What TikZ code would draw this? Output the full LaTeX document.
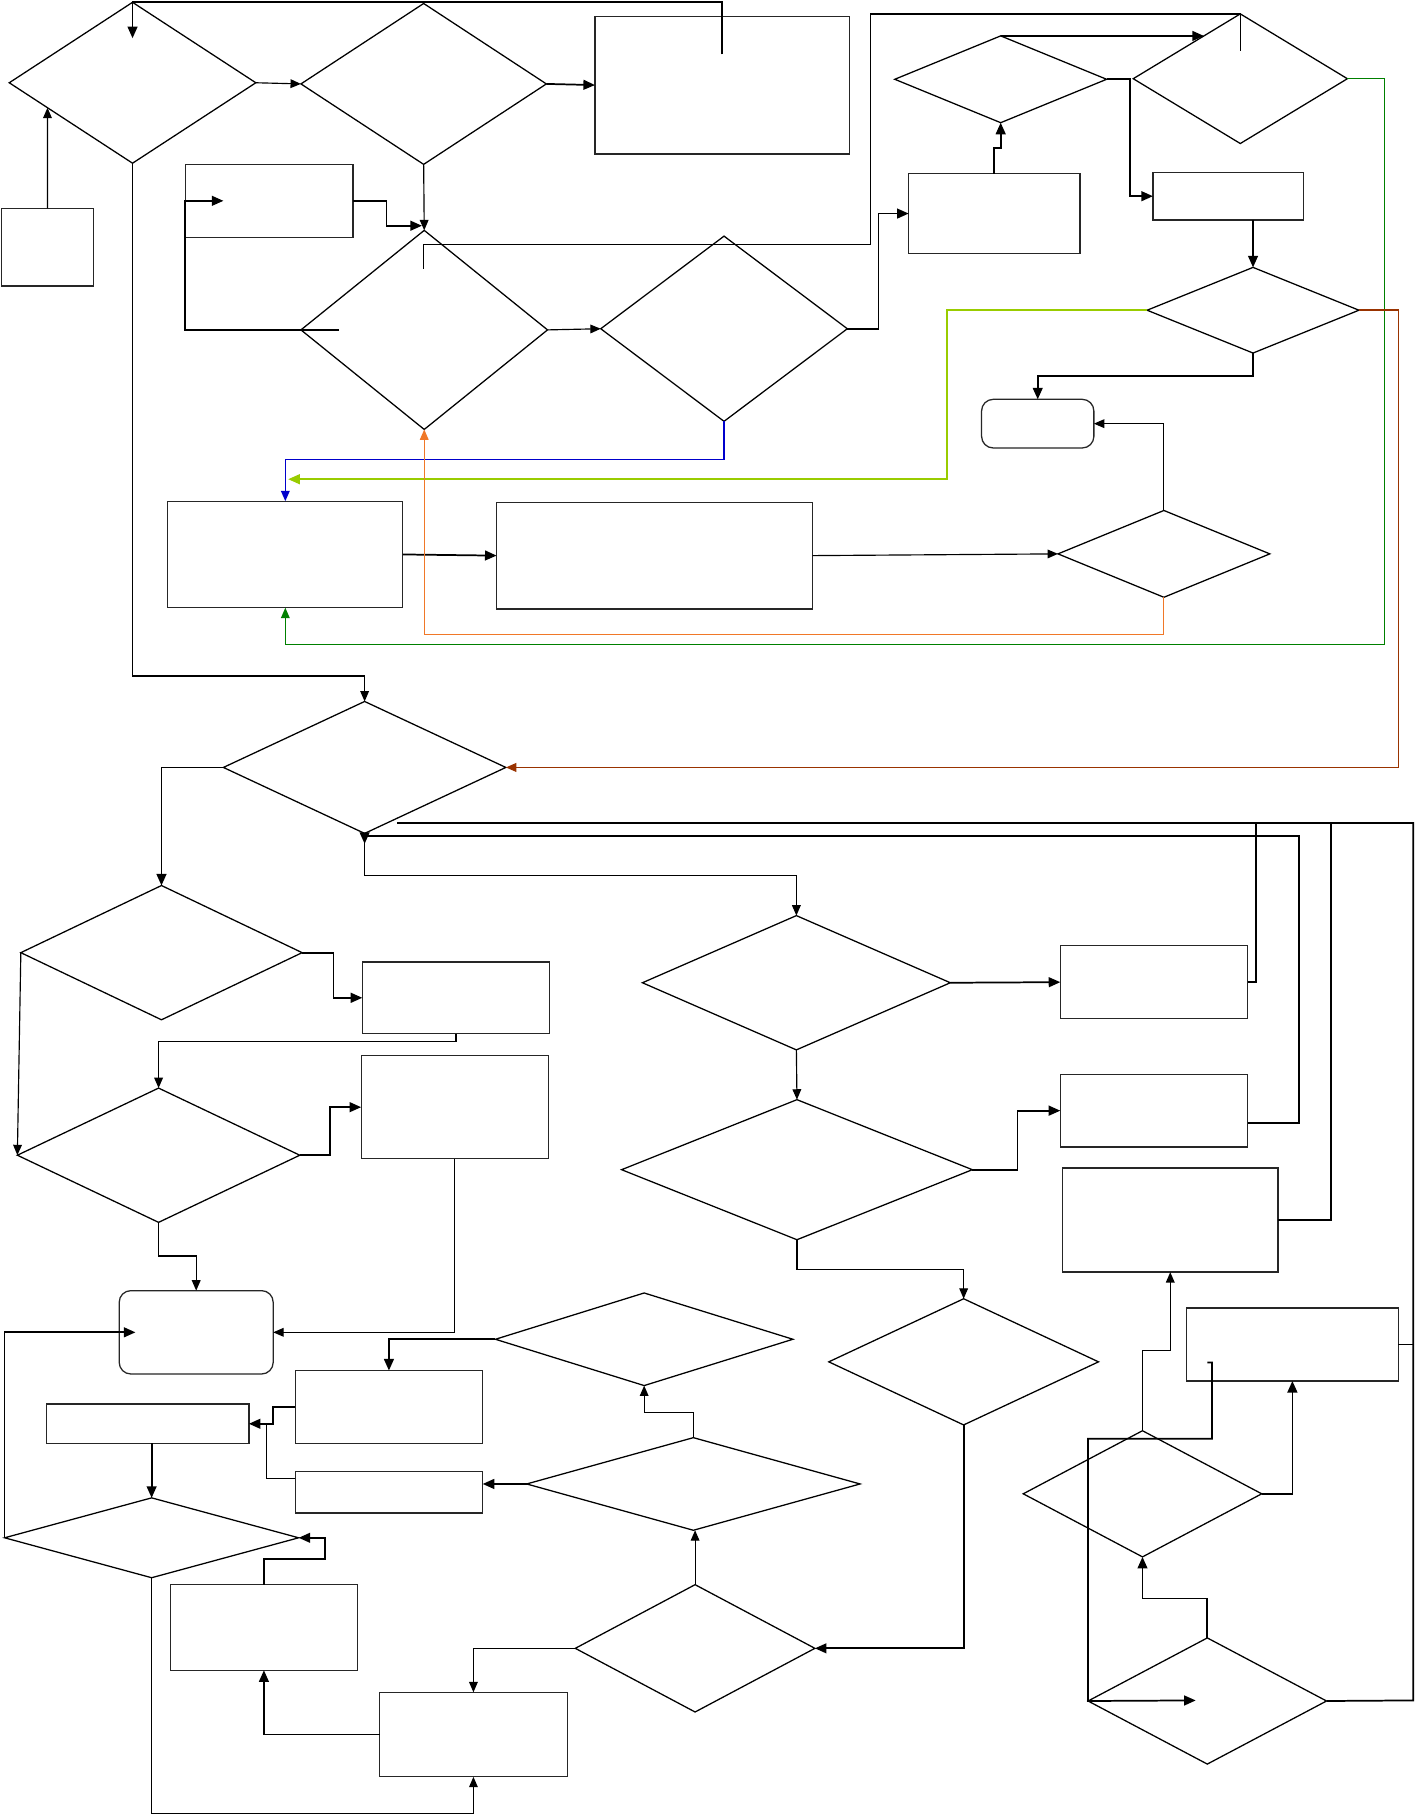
\documentclass[tikz,border=0pt]{standalone}
\usetikzlibrary{arrows.meta,shapes.geometric,calc}
\definecolor{cblue}{RGB}{0,0,204}
\definecolor{clime}{RGB}{153,204,0}
\definecolor{corange}{RGB}{240,120,40}
\definecolor{cgreen}{RGB}{0,128,0}
\definecolor{cbrown}{RGB}{153,51,0}
\newcommand\mkbox[6][box]{\node[#1,minimum width={#5-#3},minimum height={#6-#4}] (#2) at ({(#3+#5)/2},{(#4+#6)/2}) {};}
\newcommand\mkdia[5]{\node[dia,minimum width={#3-#2},minimum height={#5-#4}] (#1) at ({(#2+#3)/2},{(#4+#5)/2}) {};}
\begin{document}
\begin{tikzpicture}[x=1pt,y=-1pt,
  shp/.style={draw=black, line width=1.1pt, inner sep=0pt, outer sep=0pt},
  box/.style={shp, rectangle, draw=black!85},
  rbox/.style={box, rounded corners=10pt},
  dia/.style={shp, diamond},
  arr/.style={-{Triangle[length=10pt,width=8.5pt]}, line width=1.5pt},
  tarr/.style={-{Triangle[length=9pt,width=7.5pt]}, line width=1pt},
  ln/.style={line width=1.5pt},
  tln/.style={line width=1pt},
]
\fill[white] (0,0) rectangle (1222,1568);
\useasboundingbox (0,0) rectangle (1222,1568);

% ---------- shapes ----------
\mkdia{d1}{8}{221}{2}{141}
\mkdia{d2}{260}{472}{3}{142}
\mkbox{r1}{514}{14}{734}{133}
\mkbox{r0}{1}{180}{81}{247}
\mkbox{r2}{160}{142}{305}{205}
\mkdia{d3}{260}{473}{199}{371}
\mkdia{d4}{519}{732}{204}{364}
\mkbox{r3}{785}{150}{933}{219}
\mkdia{d6}{773}{956}{31}{106}
\mkdia{d5}{979}{1164}{12}{124}
\mkbox{r4}{996}{149}{1126}{190}
\mkdia{d7}{991}{1174}{231}{305}
\mkbox[rbox]{t1}{848}{345}{945}{387}
\mkdia{d9}{914}{1097}{441}{516}
\mkbox{r5}{145}{433}{348}{525}
\mkbox{r6}{429}{434}{702}{526}
\mkdia{d8}{193}{437}{606}{720}
\mkdia{d10}{18}{261}{765}{881}
\mkbox{r10}{313}{831}{475}{893}
\mkdia{d12}{15}{259}{940}{1056}
\mkbox{r11}{312}{912}{474}{1001}
\mkbox[rbox]{t2}{103}{1115}{236}{1187}
\mkdia{d11}{555}{821}{791}{907}
\mkbox{r7}{916}{817}{1078}{880}
\mkdia{d15}{537}{840}{950}{1071}
\mkbox{r8}{916}{928}{1078}{991}
\mkbox{r9}{918}{1009}{1104}{1099}
\mkdia{d16}{716}{949}{1122}{1231}
\mkbox{r12}{1025}{1130}{1208}{1193}
\mkdia{d19}{428}{685}{1117}{1197}
\mkbox{r17}{255}{1184}{417}{1247}
\mkbox{r15}{40}{1213}{215}{1247}
\mkdia{d18}{455}{743}{1242}{1322}
\mkbox{r16}{255}{1271}{417}{1307}
\mkdia{d13}{4}{258}{1294}{1363}
\mkbox{r14}{147}{1369}{309}{1443}
\mkdia{d17}{497}{704}{1369}{1479}
\mkbox{r13}{328}{1462}{490}{1535}
\mkdia{d20}{884}{1090}{1236}{1345}
\mkdia{d14}{940}{1146}{1415}{1524}

% ---------- free ends ----------
\coordinate (c1) at (624,47);
\coordinate (c1e) at (114.5,33);
\coordinate (c7) at (293,285);
\coordinate (c8) at (366,232);
\coordinate (c16) at (249,414);
\coordinate (c27) at (343,711);
\coordinate (c34) at (117,1151);
\coordinate (c54) at (1043,1177);
\coordinate (c54e) at (1033,1469);

% ---------- connectors: top part ----------
\draw[arr] (c1) -- (624,2) -- (d1.north) -- (c1e);
\draw[tarr] (r0.north) -- ($(d1.west)!0.31!(d1.south)$);
\draw[tarr] (d1.east) -- (d2.west);
\draw[arr] (d2.east) -- (r1.west);
\draw[tarr] (d2.south) -- (d3.north);
\draw[arr] (r2.east) -| (334,195) -- ($(d3.north)+(-2,-4)$);
\draw[arr] (c7) -- (160,285) -- (r2.west) -- ++(33,0);
\draw[line width=1.2pt] (c8) -- (366,211) -- (752,211) -- (752,12) -- (d5.north) -- (1071.5,44);
\draw[tarr] (d3.east) -- (d4.west);
\draw[arr] (d4.east) -- (759,284) |- (r3.west);
\draw[arr] (r3.north) -- (859,128) -- (864.5,128) -- (d6.south);
\draw[arr] (d6.north) -- ($(d5.west)!0.66!(d5.north)$);
\draw[arr] (d6.east) -- (976,68.5) |- (r4.west);
\draw[tarr, cgreen] (d5.east) -- (1196,68) -- (1196,557) -| (r5.south);
\draw[arr] (r4.south -| d7.north) -- (d7.north);
\draw[arr, clime] (d7.west) -- (818,268) -- (818,414) -- (c16);
\draw[tarr, cbrown, line width=1.3pt] (d7.east) -- (1208,268) |- (d8.east);
\draw[arr] (d7.south) -- (1082.5,325) -| (t1.north);
\draw[tarr] (d9.north) |- (t1.east);
\draw[tarr] (r6.east) -- (d9.west);
\draw[arr] (r5.east) -- (r6.west);
\draw[tarr, cblue, line width=1.3pt] (d4.south) -- (625.5,397) -| (r5.north);
\draw[tarr, corange] (d9.south) -- (1005.5,548) -| (d3.south);
\draw[tarr] (d1.south) -- (114.5,584) -| (d8.north);

% ---------- connectors: middle ----------
\draw[arr] (d8.west) -| (d10.north);
\draw[tarr] (d8.south) -- (315,756) -| (d11.north);
\draw[ln] (d14.east) -- (1221,1469) -- (1221,711) -- (c27);
\draw[ln] (r12.east) -- (1221,1161.5);
\draw[ln] (r7.east) -- (1085,848.5) -- (1085,711);
\draw[ln] (r9.east) -- (1150,1054) -- (1150,711);
\draw[arr] ($(r8.east)+(0,10.5)$) -- (1122,970) -- (1122,722) -- (315,722) -- (315,729);
\draw[arr] (d10.east) -- (288,823) |- (r10.west);
\draw[tarr] (r10.south) -- (394,900) -| (d12.north);
\draw[tarr] (d10.west) -- (d12.west);
\draw[arr] (d12.east) -- (285,998) |- (r11.west);
\draw[tarr] (r11.south) |- (t2.east);
\draw[tarr] (d12.south) -- (137,1085) -| (t2.north);
\draw[arr] (d13.west) |- (c34);
\draw[arr] (d11.east) -- (r7.west);
\draw[tarr] (d11.south) -- (d15.north);
\draw[arr] (d15.east) -- (879,1010.5) |- (r8.west);
\draw[tarr] (d15.south) -- (688.5,1097) -| (d16.north);

% ---------- connectors: bottom ----------
\draw[arr] (d16.south) |- (d17.east);
\draw[tarr] (d17.north) -- (d17.north |- d18.south);
\draw[tarr] (d17.west) -| (r13.north);
\draw[arr] (r13.west) -| (r14.south);
\draw[arr] (r14.north) -- (228,1347) -- (281,1347) |- (d13.east);
\draw[tarr] (d13.south) -- (131,1567) -| (r13.south);
\draw[arr] (d13.north |- r15.south) -- (d13.north);
\draw[arr] (d18.west) -- (d18.west -| r16.east);
\draw[tarr] (d18.north) -- (599,1220) -| (d19.south);
\draw[arr] (d19.west) -| (r17.north);
\draw[arr] (r17.west) -- (236,1215.5) |- (r15.east);
\draw[tln] ($(r16.west)+(0,-12)$) -- (230,1277) -- (230,1230);
\draw[arr] (d20.east) -| (r12.south);
\draw[tarr] (d20.north) -- (987,1167) -| (r9.south);
\draw[arr] (d14.north) -- (1043,1381) -| (d20.south);
\draw[arr] (c54) -- (1047,1177) -- (1047,1243) -- (940,1243) -- (d14.west) -- (c54e);
\end{tikzpicture}
\end{document}
